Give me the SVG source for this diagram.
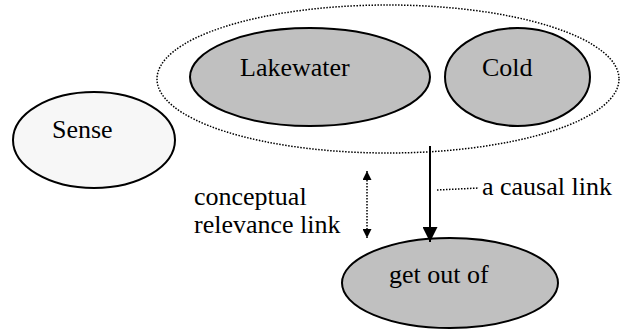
<svg xmlns="http://www.w3.org/2000/svg" width="626" height="331" viewBox="0 0 626 331">
<style>
.node{stroke:#000;stroke-width:2}
.gray{fill:#c0c0c0}
.light{fill:#f7f7f7}
.lbl{font-size:26px;fill:#000}
.dot{fill:none;stroke:#000;stroke-width:1.5;stroke-dasharray:1.5 1.5}
</style>
<defs>
<marker id="ah" viewBox="0 0 10 10" refX="10" refY="5" markerWidth="15" markerHeight="15" markerUnits="userSpaceOnUse" orient="auto">
<path d="M0,0 L10,5 L0,10 Z" fill="#000"/>
</marker>
<marker id="sh" viewBox="0 0 10 10" refX="10" refY="5" markerWidth="10" markerHeight="9" markerUnits="userSpaceOnUse" orient="auto-start-reverse">
<path d="M0,0 L10,5 L0,10 Z" fill="#000"/>
</marker>
</defs>
<g id="group-outline">
<ellipse class="dot" cx="388" cy="79" rx="231" ry="74"/>
</g>
<g font-family="'Liberation Serif', 'Times New Roman', 'DejaVu Serif', serif">
<g id="node-lakewater">
<ellipse class="node gray" cx="310" cy="77" rx="120" ry="49"/>
<text class="lbl" x="240" y="76">Lakewater</text>
</g>
<g id="node-cold">
<ellipse class="node gray" cx="517.5" cy="77" rx="72.5" ry="49"/>
<text class="lbl" x="482" y="76">Cold</text>
</g>
<g id="node-sense">
<ellipse class="node light" cx="94" cy="140" rx="81" ry="48"/>
<text class="lbl" x="52" y="138">Sense</text>
</g>
<g id="node-getoutof">
<ellipse class="node gray" cx="450" cy="283" rx="108" ry="45"/>
<text class="lbl" x="389" y="283">get out of</text>
</g>
<g id="connectors">
<line x1="430" y1="146" x2="430" y2="242" stroke="#000" stroke-width="2" marker-end="url(#ah)"/>
<line x1="367" y1="171" x2="367" y2="238" class="dot" marker-start="url(#sh)" marker-end="url(#sh)"/>
<line x1="437" y1="190" x2="479" y2="188" class="dot"/>
</g>
<g id="labels">
<text class="lbl" x="482" y="195">a causal link</text>
<text class="lbl" x="194" y="205">conceptual</text>
<text class="lbl" x="194" y="233">relevance link</text>
</g>
</g>
</svg>
